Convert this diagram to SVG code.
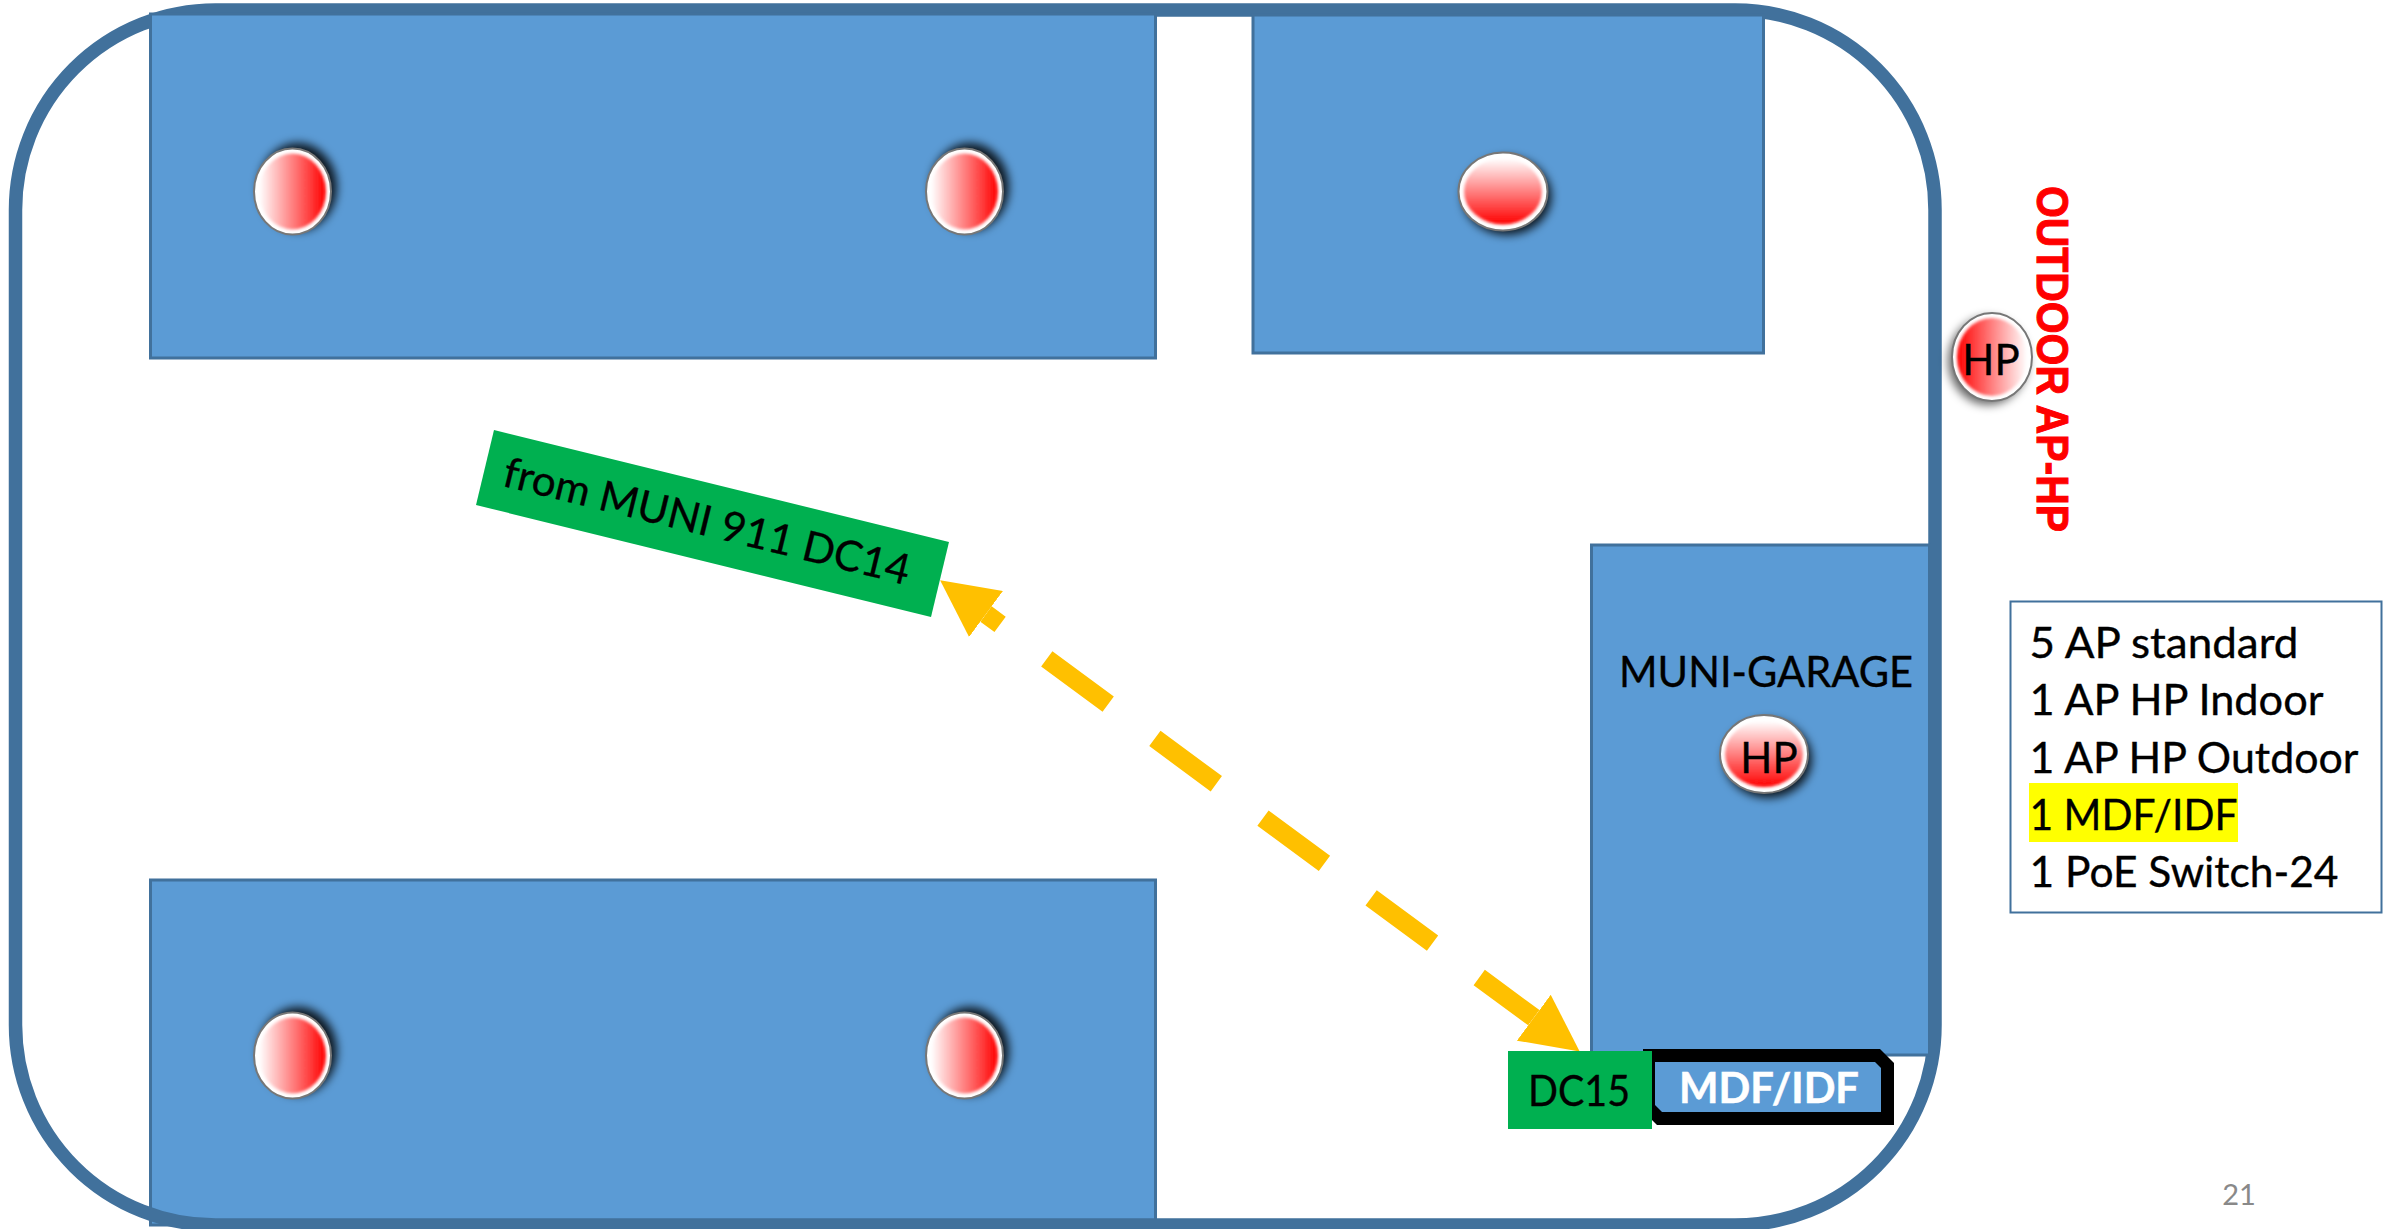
<svg xmlns="http://www.w3.org/2000/svg" width="2394" height="1229" viewBox="0 0 2394 1229">
<style>
.room{fill:#5B9BD5;stroke:#41719C;stroke-width:3}
.t{font-family:Lato,"Liberation Sans",sans-serif;font-size:42px;fill:#000;stroke:#000;stroke-width:.35}
.rim{stroke:#777;stroke-width:2;fill:none}
.base{fill:#fff}
.in{filter:url(#soft)}
.sh{fill:#000;fill-opacity:.85;filter:url(#blur)}
.sh2{fill:#000;fill-opacity:.6;filter:url(#blur)}
</style>
<defs>
<filter id="blur" x="-30%" y="-30%" width="160%" height="160%"><feGaussianBlur stdDeviation="5"/></filter>
<filter id="soft" x="-20%" y="-20%" width="140%" height="140%"><feGaussianBlur stdDeviation="1.8"/></filter>
<linearGradient id="lr" x1="0" x2="1" y1="0" y2="0"><stop offset="0" stop-color="#fff"/><stop offset="1" stop-color="#f00"/></linearGradient>
<linearGradient id="rl" x1="0" x2="1" y1="0" y2="0"><stop offset="0" stop-color="#f00"/><stop offset="1" stop-color="#fff"/></linearGradient>
<linearGradient id="tb" x1="0" x2="0" y1="0" y2="1"><stop offset="0" stop-color="#fff"/><stop offset="1" stop-color="#f00"/></linearGradient>
<marker id="head" viewBox="0 0 3 3" refX="0" refY="1.5" markerWidth="3" markerHeight="3" orient="auto-start-reverse" markerUnits="strokeWidth"><path d="M0 0L3 1.5L0 3Z" fill="#FFC000"/></marker>
</defs>
<rect width="2394" height="1229" fill="#fff"/>
<g id="room-bottom-left"><rect class="room" x="150.500" y="880" width="1005" height="345"/></g>
<g id="building-outline"><rect x="15.500" y="10" width="1919.5" height="1215" rx="200" ry="200" fill="none" stroke="#41719C" stroke-width="13.5"/></g>
<g id="room-top-left"><rect class="room" x="150.500" y="14" width="1005" height="344"/></g>
<g id="room-top-right"><rect class="room" x="1253" y="15" width="510.500" height="338"/></g>
<g id="room-garage"><rect class="room" x="1591.500" y="545" width="338" height="510"/><text class="t" x="1619" y="686.500" textLength="294" lengthAdjust="spacingAndGlyphs">MUNI-GARAGE</text></g>
<g id="ap-1"><ellipse class="sh" cx="298" cy="187" rx="39" ry="44"/><ellipse class="base" cx="292.500" cy="191.500" rx="38.500" ry="43"/><ellipse class="in" cx="292.500" cy="191.500" rx="33.500" ry="38" fill="url(#lr)"/><ellipse class="rim" cx="292.500" cy="191.500" rx="38.500" ry="43"/></g>
<g id="ap-2"><ellipse class="sh" cx="970" cy="187" rx="39" ry="44"/><ellipse class="base" cx="964.500" cy="191.500" rx="38.500" ry="43"/><ellipse class="in" cx="964.500" cy="191.500" rx="33.500" ry="38" fill="url(#lr)"/><ellipse class="rim" cx="964.500" cy="191.500" rx="38.500" ry="43"/></g>
<g id="ap-3"><ellipse class="sh" cx="1507" cy="196" rx="44.500" ry="39"/><ellipse class="base" cx="1503" cy="191.500" rx="44.500" ry="39"/><ellipse class="in" cx="1503" cy="191.500" rx="39" ry="33" fill="url(#tb)"/><ellipse class="rim" cx="1503" cy="191.500" rx="44.500" ry="39"/></g>
<g id="ap-4"><ellipse class="sh" cx="298" cy="1051" rx="39" ry="44"/><ellipse class="base" cx="292.500" cy="1055.500" rx="38.500" ry="43"/><ellipse class="in" cx="292.500" cy="1055.500" rx="33.500" ry="38" fill="url(#lr)"/><ellipse class="rim" cx="292.500" cy="1055.500" rx="38.500" ry="43"/></g>
<g id="ap-5"><ellipse class="sh" cx="970" cy="1051" rx="39" ry="44"/><ellipse class="base" cx="964.500" cy="1055.500" rx="38.500" ry="43"/><ellipse class="in" cx="964.500" cy="1055.500" rx="33.500" ry="38" fill="url(#lr)"/><ellipse class="rim" cx="964.500" cy="1055.500" rx="38.500" ry="43"/></g>
<g id="ap-hp-indoor"><ellipse class="sh" cx="1768" cy="759" rx="44" ry="39"/><ellipse class="base" cx="1764" cy="754" rx="44" ry="39"/><ellipse class="in" cx="1764" cy="754" rx="39" ry="33" fill="url(#tb)"/><ellipse class="rim" cx="1764" cy="754" rx="44" ry="39"/><text class="t" x="1769" y="772.500" text-anchor="middle">HP</text></g>
<g id="ap-hp-outdoor"><ellipse class="sh2" cx="1988" cy="361" rx="40" ry="44"/><ellipse class="base" cx="1992" cy="357" rx="40" ry="44"/><ellipse class="in" cx="1992" cy="357" rx="35" ry="39" fill="url(#rl)"/><ellipse class="rim" cx="1992" cy="357" rx="40" ry="44"/><text class="t" x="1991" y="375" text-anchor="middle">HP</text></g>
<g id="outdoor-label"><text transform="translate(2037 186) rotate(90)" font-family="Liberation Sans,sans-serif" font-weight="700" font-size="44" fill="#f00" stroke="#f00" stroke-width="1" textLength="346" lengthAdjust="spacingAndGlyphs">OUTDOOR AP-HP</text></g>
<g id="connectors"><path d="M986 614L1533.800 1017.700" fill="none" stroke="#FFC000" stroke-width="19" stroke-dasharray="17.500 58 76.300 58 76.300 58 76.300 58 76.300 58 76.300 58" marker-start="url(#head)" marker-end="url(#head)"/></g>
<g id="dc14"><polygon points="494,430 949,542 931,617 476,505" fill="#00B050"/><text class="t" transform="translate(501 485.500) rotate(13.8)" textLength="417" lengthAdjust="spacingAndGlyphs">from MUNI 911 DC14</text></g>
<g id="mdf-idf"><polygon points="1643,1049 1880,1049 1894,1063 1894,1125 1657,1125 1643,1111" fill="#000"/><polygon points="1655,1062 1875,1062 1881,1068 1881,1112 1662,1112 1655,1105" fill="#5B9BD5"/><text x="1679" y="1103" font-family="Lato,sans-serif" font-weight="700" font-size="42" fill="#fff" stroke="#fff" stroke-width=".5" textLength="180" lengthAdjust="spacingAndGlyphs">MDF/IDF</text></g>
<g id="dc15"><rect x="1508" y="1051" width="144" height="78" fill="#00B050"/><text class="t" x="1528" y="1106" textLength="102" lengthAdjust="spacingAndGlyphs">DC15</text></g>
<g id="legend"><rect x="2010.500" y="601.500" width="371" height="311" fill="#fff" stroke="#41719C" stroke-width="2"/><rect x="2029" y="783" width="209" height="59" fill="#ff0"/>
<text class="t" x="2029.500" y="658" textLength="269" lengthAdjust="spacingAndGlyphs">5 AP standard</text><text class="t" x="2029.500" y="715" textLength="294" lengthAdjust="spacingAndGlyphs">1 AP HP Indoor</text><text class="t" x="2029.500" y="773" textLength="329" lengthAdjust="spacingAndGlyphs">1 AP HP Outdoor</text><text class="t" x="2029.500" y="830" textLength="208" lengthAdjust="spacingAndGlyphs">1 MDF/IDF</text><text class="t" x="2029.500" y="887" textLength="309" lengthAdjust="spacingAndGlyphs">1 PoE Switch-24</text></g>
<text x="2239" y="1205" font-family="Lato,sans-serif" font-size="29" fill="#898989" text-anchor="middle">21</text>
</svg>
